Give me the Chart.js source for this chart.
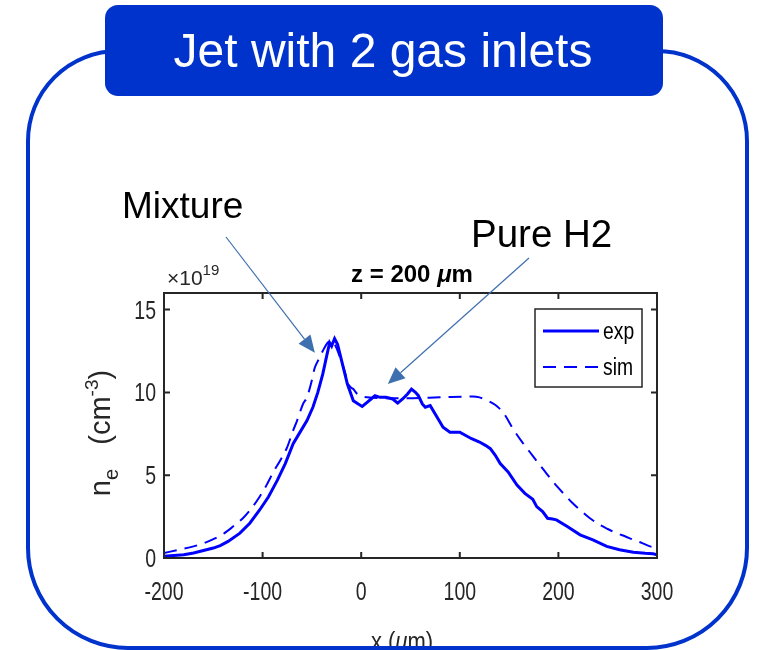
<!DOCTYPE html>
<html>
<head>
<meta charset="utf-8">
<script src="https://cdn.jsdelivr.net/npm/chart.js@4.4.1/dist/chart.umd.min.js"></script>
<style>
  html, body { margin: 0; padding: 0; background: #fff; }
  #wrap { width: 757px; height: 650px; }
</style>
</head>
<body>
<div id="wrap"><canvas id="jetChart" width="757" height="650"></canvas></div>
<script>
// density profile at z = 200 um, values in units of 1e19 cm^-3
const expX = [-200, -190, -180, -170, -160, -150, -143, -135, -123, -113, -103, -94, -85, -77, -69, -62, -55, -49, -44, -39, -35, -32, -30, -27, -24, -19, -14, -8, -3, 1, 6, 10, 14, 19, 25, 32, 37, 42, 47, 51, 55, 58, 62, 65, 70, 77, 83, 90, 97, 100, 106, 112, 120, 126, 131, 136, 141, 149, 158, 166, 174, 178, 184, 189, 194, 198, 209, 222, 235, 249, 262, 276, 288, 296, 300];
const expY = [0.1, 0.15, 0.2, 0.3, 0.45, 0.6, 0.75, 1.0, 1.5, 2.1, 2.9, 3.7, 4.7, 5.7, 6.9, 7.6, 8.3, 9.1, 10.0, 11.1, 12.2, 13.0, 12.8, 13.25, 12.9, 11.7, 10.5, 9.5, 9.3, 9.15, 9.4, 9.6, 9.8, 9.7, 9.7, 9.6, 9.35, 9.6, 9.9, 10.2, 10.0, 9.8, 9.3, 9.1, 9.2, 8.5, 7.9, 7.6, 7.6, 7.6, 7.4, 7.2, 7.0, 6.8, 6.6, 6.2, 5.7, 5.2, 4.4, 3.9, 3.55, 3.1, 2.8, 2.4, 2.35, 2.3, 1.9, 1.4, 1.1, 0.7, 0.5, 0.35, 0.28, 0.25, 0.2];

const simX = [-200, -185, -170, -155, -140, -130, -120, -110, -103, -96, -89, -82, -75, -69, -65, -59, -55, -51, -47, -43, -39, -34, -30, -26, -22, -18, -12, -8, -4, 1, 6, 20, 46, 80, 113, 120, 128, 133, 138, 145, 154, 162, 171, 180, 188, 196, 205, 213, 222, 232, 242, 250, 259, 268, 276, 285, 293, 300];
const simY = [0.3, 0.5, 0.7, 1.0, 1.45, 1.9, 2.4, 3.1, 3.7, 4.4, 5.2, 5.9, 6.7, 7.7, 8.3, 9.3, 9.7, 10.5, 11.5, 12.0, 12.5, 13.0, 13.1, 12.8, 12.2, 11.5, 10.4, 10.2, 9.9, 9.75, 9.7, 9.65, 9.65, 9.7, 9.75, 9.7, 9.5, 9.35, 9.15, 8.7, 7.8, 7.1, 6.4, 5.7, 5.1, 4.5, 3.9, 3.4, 2.9, 2.4, 2.0, 1.75, 1.5, 1.3, 1.1, 0.9, 0.7, 0.65];

const xTicks = [-200, -100, 0, 100, 200, 300];
const yTicks = [0, 5, 10, 15];

// where the two call-out arrows point (data coords)
const mixtureTip = { x: -47, y: 12.4 };
const pureH2Tip = { x: 27, y: 10.5 };

const BLUE = '#0033cc';
const AXIS = '#262626';
const SANS = "'Liberation Sans', Arial, Helvetica, sans-serif";
const NARROW_X = 0.78;   // matlab labels look squeezed

function toPoints(xs, ys) {
    return xs.map((x, i) => ({ x: x, y: ys[i] }));
}

// text squeezed horizontally by sx
function squeezeText(ctx, text, x, y, font, align, sx) {
    ctx.save();
    ctx.font = font;
    ctx.translate(x, y);
    ctx.scale(sx, 1);
    ctx.textAlign = align;
    ctx.fillText(text, 0, 0);
    ctx.restore();
}

// draw a row of text pieces (font / vertical shift) starting at x
function drawRuns(ctx, runs, x, y, align, sx) {
    sx = sx || 1;
    let total = 0;
    runs.forEach(r => { ctx.font = r.font; total += ctx.measureText(r.t).width; });
    ctx.save();
    ctx.translate(x, y);
    ctx.scale(sx, 1);
    let cx = align === 'center' ? -total / 2 : 0;
    ctx.textAlign = 'left';
    runs.forEach(r => {
        ctx.font = r.font;
        ctx.fillText(r.t, cx, r.dy || 0);
        cx += ctx.measureText(r.t).width;
    });
    ctx.restore();
}

function drawArrow(ctx, x0, y0, x1, y1) {
    const ang = Math.atan2(y1 - y0, x1 - x0);
    const len = 17, half = 7.5;
    const bx = x1 - len * Math.cos(ang), by = y1 - len * Math.sin(ang);
    ctx.strokeStyle = '#3e6fae';
    ctx.fillStyle = '#3e6fae';
    ctx.lineWidth = 1.2;
    ctx.beginPath();
    ctx.moveTo(x0, y0);
    ctx.lineTo(bx, by);
    ctx.stroke();
    ctx.beginPath();
    ctx.moveTo(x1, y1);
    ctx.lineTo(bx + half * Math.sin(ang), by - half * Math.cos(ang));
    ctx.lineTo(bx - half * Math.sin(ang), by + half * Math.cos(ang));
    ctx.closePath();
    ctx.fill();
}

const decorPlugin = {
    id: 'decor',
    beforeDraw(chart) {
        const ctx = chart.ctx;
        ctx.save();
        ctx.fillStyle = '#fff';
        ctx.fillRect(0, 0, chart.width, chart.height);
        ctx.restore();
    },
    afterDatasetsDraw(chart) {
        const ctx = chart.ctx;
        const a = chart.chartArea;
        const xs = chart.scales.x, ys = chart.scales.y;
        ctx.save();

        // axes box with inward ticks
        ctx.strokeStyle = AXIS;
        ctx.lineWidth = 2;
        ctx.strokeRect(a.left, a.top, a.right - a.left, a.bottom - a.top);
        ctx.beginPath();
        xTicks.forEach(v => {
            const px = xs.getPixelForValue(v);
            ctx.moveTo(px, a.bottom); ctx.lineTo(px, a.bottom - 6);
            ctx.moveTo(px, a.top); ctx.lineTo(px, a.top + 6);
        });
        yTicks.forEach(v => {
            const py = ys.getPixelForValue(v);
            ctx.moveTo(a.left, py); ctx.lineTo(a.left + 6, py);
            ctx.moveTo(a.right, py); ctx.lineTo(a.right - 6, py);
        });
        ctx.stroke();

        // tick labels, placed by the scales
        ctx.fillStyle = AXIS;
        ctx.textBaseline = 'alphabetic';
        xTicks.forEach(v => {
            squeezeText(ctx, String(v), xs.getPixelForValue(v), a.bottom + 42, '25px ' + SANS, 'center', NARROW_X);
        });
        yTicks.forEach(v => {
            squeezeText(ctx, String(v), a.left - 8, ys.getPixelForValue(v) + 9, '25px ' + SANS, 'right', NARROW_X);
        });

        // legend
        const lx = 535, ly = 309, lw = 107, lh = 78;
        ctx.fillStyle = '#fff';
        ctx.fillRect(lx, ly, lw, lh);
        ctx.strokeStyle = AXIS;
        ctx.lineWidth = 1.5;
        ctx.strokeRect(lx, ly, lw, lh);
        chart.data.datasets.forEach((ds, i) => {
            const yy = ly + 22 + i * 36;
            ctx.strokeStyle = ds.borderColor;
            ctx.lineWidth = ds.borderWidth;
            ctx.setLineDash(ds.borderDash || []);
            ctx.beginPath();
            ctx.moveTo(lx + 8, yy);
            ctx.lineTo(lx + 64, yy);
            ctx.stroke();
            ctx.setLineDash([]);
            ctx.fillStyle = '#000';
            squeezeText(ctx, ds.label, lx + 68, yy + 8, '23px ' + SANS, 'left', 0.84);
        });

        // exponent label and plot title
        ctx.fillStyle = AXIS;
        drawRuns(ctx, [
            { t: '\u00d710', font: '21px ' + SANS },
            { t: '19', font: '15px ' + SANS, dy: -10 }
        ], 167, 285, 'left');
        ctx.fillStyle = '#000';
        drawRuns(ctx, [
            { t: 'z = 200 ', font: 'bold 24px ' + SANS },
            { t: '\u03bc', font: 'italic bold 24px ' + SANS },
            { t: 'm', font: 'bold 24px ' + SANS }
        ], 412, 282, 'center');

        // axis titles
        ctx.fillStyle = AXIS;
        drawRuns(ctx, [
            { t: 'x (', font: '25px ' + SANS },
            { t: '\u03bc', font: 'italic 25px ' + SANS },
            { t: 'm)', font: '25px ' + SANS }
        ], 402, 650, 'center', 0.88);
        ctx.save();
        ctx.translate(110, 433);
        ctx.rotate(-Math.PI / 2);
        drawRuns(ctx, [
            { t: 'n', font: '29px ' + SANS },
            { t: 'e', font: '20px ' + SANS, dy: 8 },
            { t: '   (cm', font: '29px ' + SANS },
            { t: '-3', font: '19px ' + SANS, dy: -12 },
            { t: ')', font: '29px ' + SANS }
        ], 0, 0, 'center');
        ctx.restore();

        // outer rounded frame and heading box
        ctx.strokeStyle = BLUE;
        ctx.lineWidth = 4;
        ctx.beginPath();
        ctx.roundRect(28, 51, 719, 597, [90, 90, 100, 100]);
        ctx.stroke();
        ctx.fillStyle = BLUE;
        ctx.beginPath();
        ctx.roundRect(105, 5, 558, 91, 13);
        ctx.fill();
        ctx.fillStyle = '#fff';
        ctx.font = '48px ' + SANS;
        ctx.textAlign = 'center';
        ctx.fillText('Jet with 2 gas inlets', 383, 67);

        // call-outs
        ctx.fillStyle = '#000';
        ctx.textAlign = 'left';
        ctx.font = '37px ' + SANS;
        ctx.fillText('Mixture', 122, 218);
        ctx.font = '38.5px ' + SANS;
        ctx.fillText('Pure H2', 471, 247);
        drawArrow(ctx, 226, 237, xs.getPixelForValue(mixtureTip.x), ys.getPixelForValue(mixtureTip.y));
        drawArrow(ctx, 529, 258, xs.getPixelForValue(pureH2Tip.x), ys.getPixelForValue(pureH2Tip.y));

        ctx.restore();
    }
};

new Chart(document.getElementById('jetChart'), {
    type: 'line',
    data: {
        datasets: [{
            label: 'exp',
            data: toPoints(expX, expY),
            borderColor: '#0000ff',
            borderWidth: 3,
            pointRadius: 0,
            tension: 0
        }, {
            label: 'sim',
            data: toPoints(simX, simY),
            borderColor: '#0000ff',
            borderWidth: 2,
            borderDash: [13, 8],
            pointRadius: 0,
            cubicInterpolationMode: 'monotone'
        }]
    },
    options: {
        responsive: false,
        animation: false,
        layout: { padding: { left: 100, right: 100, top: 293, bottom: 0 } },
        plugins: {
            legend: { display: false },
            tooltip: { enabled: false }
        },
        scales: {
            x: {
                type: 'linear',
                min: -200,
                max: 300,
                afterFit: function(scale) { scale.height = 92; },
                afterBuildTicks: function(scale) { scale.ticks = xTicks.map(v => ({ value: v })); },
                grid: { display: false, drawTicks: false },
                border: { display: false },
                ticks: { display: false }
            },
            y: {
                min: 0,
                max: 16,
                afterFit: function(scale) { scale.width = 64; },
                afterBuildTicks: function(scale) { scale.ticks = yTicks.map(v => ({ value: v })); },
                grid: { display: false, drawTicks: false },
                border: { display: false },
                ticks: { display: false }
            }
        }
    },
    plugins: [decorPlugin]
});
</script>
</body>
</html>
